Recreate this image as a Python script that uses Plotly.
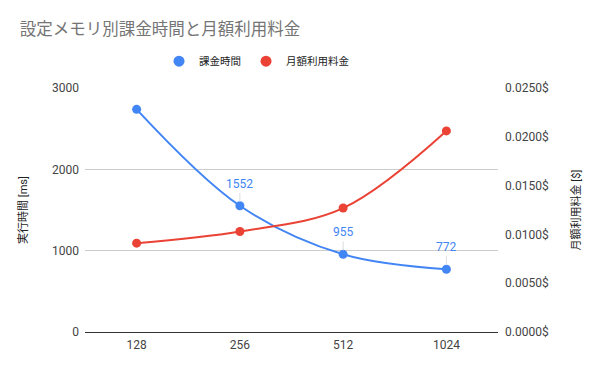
import plotly.graph_objects as go

memory = ["128", "256", "512", "1024"]
billed_ms = [2738, 1552, 955, 772]
monthly_cost = [0.0091, 0.0103, 0.0127, 0.0206]
label_points = [1, 2, 3]
left_ticks = [0, 1000, 2000, 3000]
right_ticks = [0, 0.005, 0.01, 0.015, 0.02, 0.025]

BLUE = "#4285F4"
RED = "#EA4335"
FONT = "Roboto, 'Noto Sans CJK JP', sans-serif"

xpos = list(range(len(memory)))

fig = go.Figure()
fig.add_trace(go.Scatter(
    x=xpos, y=billed_ms, name="課金時間", mode="lines+markers",
    line=dict(color=BLUE, width=2, shape="spline", smoothing=1.0),
    marker=dict(color=BLUE, size=9), yaxis="y", showlegend=False))
fig.add_trace(go.Scatter(
    x=xpos, y=monthly_cost, name="月額利用料金", mode="lines+markers",
    line=dict(color=RED, width=2, shape="spline", smoothing=1.0),
    marker=dict(color=RED, size=9), yaxis="y2", showlegend=False))
# legend entries (circle only)
fig.add_trace(go.Scatter(x=[None], y=[None], name="課金時間", mode="markers",
                         marker=dict(color=BLUE, size=11)))
fig.add_trace(go.Scatter(x=[None], y=[None], name="月額利用料金", mode="markers",
                         marker=dict(color=RED, size=11)))

for i in label_points:
    fig.add_annotation(
        x=xpos[i], y=billed_ms[i], xref="x", yref="y",
        text=str(billed_ms[i]), showarrow=True, arrowhead=0,
        arrowwidth=1, arrowcolor="#dddddd", ax=0, ay=-13, standoff=4,
        font=dict(color=BLUE, size=12, family=FONT), yanchor="bottom")

fig.update_layout(
    width=600, height=371,
    margin=dict(l=85, r=102, t=88, b=39),
    paper_bgcolor="white", plot_bgcolor="white",
    font=dict(family=FONT, size=12, color="#444444"),
    title=dict(text="設定メモリ別課金時間と月額利用料金", x=0.033, xanchor="left",
               y=0.921, yanchor="middle",
               font=dict(size=16.5, color="#757575", family=FONT)),
    legend=dict(orientation="h", x=0.4165, xanchor="center", y=1.11, yanchor="middle",
                font=dict(size=10.5, color="#222222")),
    xaxis=dict(tickvals=xpos, ticktext=memory, range=[-0.5, len(memory) - 0.5],
               showgrid=False, zeroline=False, ticks="", showline=False,
               ticklabelstandoff=4,
               tickfont=dict(size=12, color="#444444")),
    yaxis=dict(range=[0, 3000], tickvals=left_ticks, showgrid=True,
               gridcolor="#cccccc", zeroline=True, zerolinecolor="#333333",
               zerolinewidth=1, ticks="", ticklabelstandoff=5,
               title=dict(text="実行時間 [ms]", font=dict(size=11, color="#222222"), standoff=22),
               tickfont=dict(size=12, color="#444444")),
    yaxis2=dict(range=[0, 0.025], tickvals=right_ticks,
                ticktext=[f"{v:.4f}$" for v in right_ticks],
                overlaying="y", side="right",
                showgrid=False, zeroline=False, ticks="", ticklabelstandoff=6,
                title=dict(text="月額利用料金 [$]", font=dict(size=11, color="#222222"), standoff=24),
                tickfont=dict(size=12, color="#444444")),
)

fig.write_html("out.html", config={"displayModeBar": False},
               post_script="document.body.style.margin='0px';")
